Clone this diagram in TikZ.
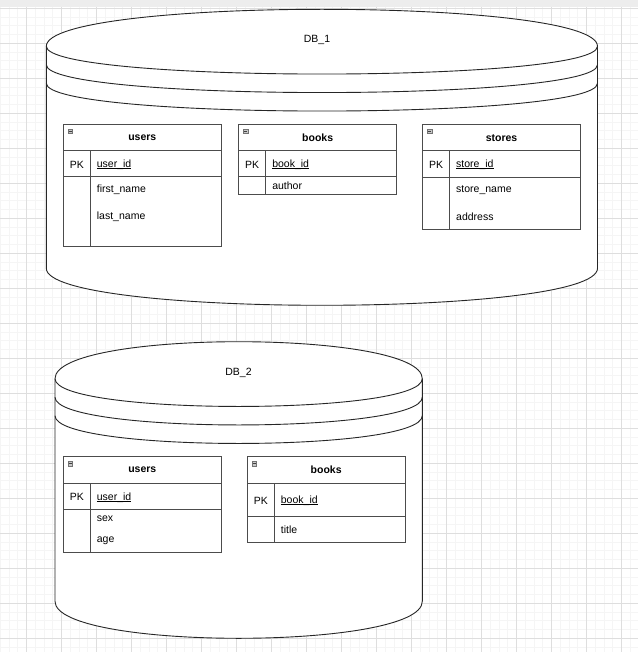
\documentclass[tikz,border=0pt]{standalone}
\usepackage{fontspec}
\setmainfont{Liberation Sans}
\usepackage{tikz}
\usetikzlibrary{positioning}
\newcommand{\ertext}{\fontsize{10.5}{12}\selectfont}
\newcommand{\keyname}[1]{{\setbox0\hbox{#1}\rlap{\rule[-1.7pt]{\wd0}{0.7pt}}\box0}}
\tikzset{
	minorgrid/.style={draw=black!4, line width=1pt},
	majorgrid/.style={draw=black!13, line width=1pt},
	dbline/.style={draw=black!85, line width=0.9pt},
	tabline/.style={draw=black!70, line width=0.9pt},
	collapse/.style={draw=black!55, fill=black!22, line width=0.5pt},
	dblabel/.style={font=\ertext, inner sep=0pt, yshift=-1pt},
	hdr/.style={font=\bfseries\ertext, inner sep=0pt, yshift=-1pt},
	key/.style={font=\ertext, inner sep=0pt, yshift=-1pt},
	fld/.style={font=\ertext, inner sep=0pt, anchor=west, yshift=-1pt},
}
% datastore shape: left, top, right, bottom
\newcommand{\dbstore}[4]{
	\draw[dbline, fill=white] (#1,#2+37) .. controls (#1,#2-12.33) and (#3,#2-12.33) .. (#3,#2+37)
	-- (#3,#4-37) .. controls (#3,#4+12.33) and (#1,#4+12.33) .. (#1,#4-37) -- cycle;
	\foreach \s in {37,55.5,74} {
			\draw[dbline] (#1,#2+\s) .. controls (#1,#2+\s+37) and (#3,#2+\s+37) .. (#3,#2+\s);
		}
}
% table frame: left, top, header bottom, key bottom, bottom
\newcommand{\ertable}[5]{
	\draw[tabline, fill=white] (#1,#2) rectangle (#1+158,#5);
	\draw[tabline] (#1,#3) -- (#1+158,#3) (#1,#4) -- (#1+158,#4) (#1+27,#3) -- (#1+27,#5);
	\draw[collapse] (#1+4.7,#2+4.7) rectangle ++(4.6,4.6);
	\draw[black!75, line width=0.7pt] (#1+5.6,#2+7) -- ++(2.8,0);
}

\begin{document}
\begin{tikzpicture}[x=1pt, y=-1pt]
	\useasboundingbox (0,0) rectangle (638,652);
	% canvas
	\fill[white] (0,0) rectangle (638,652);
	\foreach \i in {0,...,72} {
			\draw[minorgrid] (0.45+8.75*\i,0) -- ++(0,652);
		}
	\foreach \i in {0,...,73} {
			\draw[minorgrid] (0,8.3+8.75*\i) -- ++(638,0);
		}
	\foreach \i in {0,...,17} {
			\draw[majorgrid] (26.7+35*\i,0) -- ++(0,652);
		}
	\foreach \i in {0,...,18} {
			\draw[majorgrid] (0,8.3+35*\i) -- ++(638,0);
		}
	\fill[black!7] (0,0) rectangle (638,7.5);

	% DB_1
	\dbstore{46.3}{9.3}{597.5}{305.3}
	\node[dblabel] (db1) at (317,39) {DB\_1};

	\ertable{63.3}{124.3}{150.7}{176.7}{246.7}
	\node[hdr] (users1) at (142.3,137) {users};
	\node[key] (users1-pk) at (76.8,163.5) {PK};
	\node[fld] (users1-id) at (96.7,163.5) {\keyname{user\_id}};
	\node[fld] (users1-first) at (96.7,189) {first\_name};
	\node[fld] (users1-last) at (96.7,216) {last\_name};

	\ertable{238.7}{124.3}{150.7}{176.7}{194.3}
	\node[hdr] (books1) at (317.7,137) {books};
	\node[key] (books1-pk) at (252.2,163.5) {PK};
	\node[fld] (books1-id) at (272.1,163.5) {\keyname{book\_id}};
	\node[fld] (books1-author) at (272.1,185) {author};

	\ertable{422.5}{124.3}{150.7}{177}{229}
	\node[hdr] (stores1) at (501.5,137.3) {stores};
	\node[key] (stores1-pk) at (436,163.5) {PK};
	\node[fld] (stores1-id) at (456,163.5) {\keyname{store\_id}};
	\node[fld] (stores1-name) at (456,189.3) {store\_name};
	\node[fld] (stores1-addr) at (456,216) {address};

	% DB_2
	\dbstore{55}{341.7}{422.3}{638.3}
	\node[dblabel] (db2) at (238.5,371.7) {DB\_2};

	\ertable{63.3}{456.7}{483.3}{509.3}{552.7}
	\node[hdr] (users2) at (142.3,469) {users};
	\node[key] (users2-pk) at (76.8,496.3) {PK};
	\node[fld] (users2-id) at (96.7,496.3) {\keyname{user\_id}};
	\node[fld] (users2-sex) at (96.7,517.3) {sex};
	\node[fld] (users2-age) at (96.7,539.3) {age};

	\ertable{247.3}{456.7}{483.3}{516}{542.3}
	\node[hdr] (books2) at (326.2,469) {books};
	\node[key] (books2-pk) at (260.8,499.6) {PK};
	\node[fld] (books2-id) at (280.7,499.6) {\keyname{book\_id}};
	\node[fld] (books2-title) at (280.7,529) {title};
\end{tikzpicture}
\end{document}
